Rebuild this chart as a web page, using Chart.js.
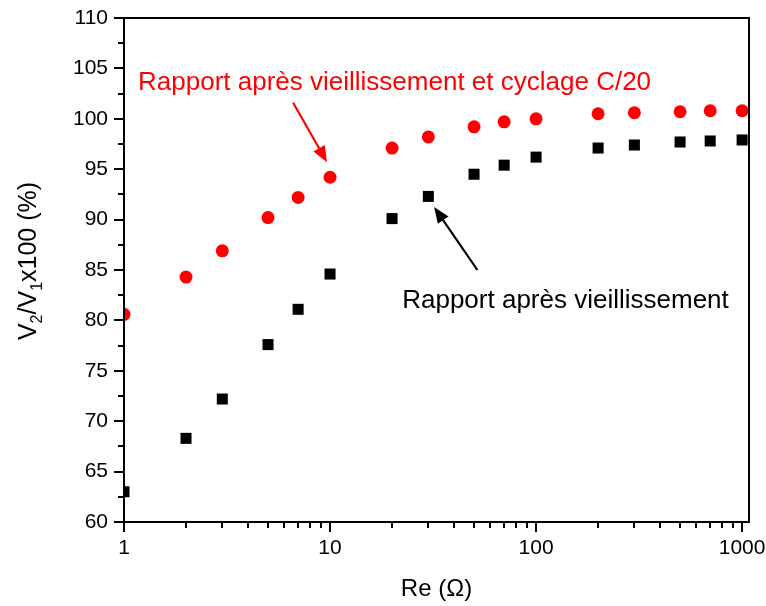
<!DOCTYPE html>
<html>
<head>
<meta charset="utf-8">
<script src="https://cdn.jsdelivr.net/npm/chart.js@4"></script>
<style>
  body { margin: 0; background: #fff; }
</style>
</head>
<body>
<canvas id="chart" width="766" height="606"></canvas>
<script>
const fontFamily = "'Liberation Sans', Arial, Helvetica, sans-serif";

// data
const reValues = [1, 2, 3, 5, 7, 10, 20, 30, 50, 70, 100, 200, 300, 500, 700, 1000];
const ratioCyclage = [80.6, 84.3, 86.9, 90.2, 92.2, 94.2, 97.1, 98.2, 99.2, 99.7, 100.0, 100.5, 100.6, 100.7, 100.8, 100.8];
const ratioVieillissement = [63.0, 68.3, 72.2, 77.6, 81.1, 84.6, 90.1, 92.3, 94.5, 95.4, 96.2, 97.1, 97.4, 97.7, 97.8, 97.9];

// axes
const xTickValues = [1, 10, 100, 1000];
const yTickValues = [60, 65, 70, 75, 80, 85, 90, 95, 100, 105, 110];
const xMin = 1, xMax = 1080;
const yMin = 60, yMax = 110, yMinorStep = 2.5;

// annotation texts
const labelCyclage = "Rapport après vieillissement et cyclage C/20";
const labelVieillissement = "Rapport après vieillissement";

// draws the frame, outward ticks, the y title with subscripts and the arrows
const framePlugin = {
    id: 'frame_and_notes',
    afterDatasetsDraw: (chart) => {
        const ctx = chart.ctx;
        const a = chart.chartArea;
        const x = chart.scales.x;
        const y = chart.scales.y;
        ctx.save();

        // box
        ctx.strokeStyle = '#000';
        ctx.lineWidth = 2;
        ctx.strokeRect(a.left, a.top, a.right - a.left, a.bottom - a.top);

        // ticks
        ctx.beginPath();
        for (let v = yMin; v <= yMax; v += yMinorStep) {
            const py = Math.round(y.getPixelForValue(v));
            const len = v % 5 === 0 ? 10 : 6;
            ctx.moveTo(a.left - len, py);
            ctx.lineTo(a.left, py);
        }
        for (let d = 1; d < xMax; d *= 10) {
            for (let m = 1; m < 10; m++) {
                const v = m * d;
                if (v > xMax) break;
                const px = Math.round(x.getPixelForValue(v));
                const len = m === 1 ? 10 : 6;
                ctx.moveTo(px, a.bottom);
                ctx.lineTo(px, a.bottom + len);
            }
        }
        ctx.stroke();

        // annotations
        ctx.font = `26px ${fontFamily}`;
        ctx.textBaseline = 'alphabetic';
        ctx.textAlign = 'left';
        ctx.fillStyle = '#ff0000';
        ctx.fillText(labelCyclage, x.getPixelForValue(1.17), y.getPixelForValue(102.9));
        ctx.fillStyle = '#000';
        ctx.fillText(labelVieillissement, x.getPixelForValue(22.4), y.getPixelForValue(81.2));

        drawArrow(ctx, x.getPixelForValue(6.62), y.getPixelForValue(101.6),
            x.getPixelForValue(9.67), y.getPixelForValue(95.7), '#ff0000');
        drawArrow(ctx, x.getPixelForValue(51.9), y.getPixelForValue(85.0),
            x.getPixelForValue(32.0), y.getPixelForValue(91.25), '#000');

        // y title: V2/V1x100 (%) with subscripts
        const parts = [
            {t: 'V', size: 25, dy: 0},
            {t: '2', size: 16, dy: 6},
            {t: '/V', size: 25, dy: 0},
            {t: '1', size: 16, dy: 6},
            {t: 'x100 (%)', size: 25, dy: 0},
        ];
        let total = 0;
        for (const p of parts) {
            ctx.font = `${p.size}px ${fontFamily}`;
            p.w = ctx.measureText(p.t).width;
            total += p.w;
        }
        ctx.translate(36, 261);
        ctx.rotate(-Math.PI / 2);
        ctx.fillStyle = '#000';
        let cx = -total / 2;
        for (const p of parts) {
            ctx.font = `${p.size}px ${fontFamily}`;
            ctx.fillText(p.t, cx, p.dy);
            cx += p.w;
        }
        ctx.restore();
    }
};

function drawArrow(ctx, x1, y1, x2, y2, color) {
    const ang = Math.atan2(y2 - y1, x2 - x1);
    const headLen = 16, headHalf = 6.5;
    const bx = x2 - headLen * Math.cos(ang);
    const by = y2 - headLen * Math.sin(ang);
    ctx.strokeStyle = color;
    ctx.fillStyle = color;
    ctx.lineWidth = 2.2;
    ctx.beginPath();
    ctx.moveTo(x1, y1);
    ctx.lineTo(bx + 2 * Math.cos(ang), by + 2 * Math.sin(ang));
    ctx.stroke();
    ctx.beginPath();
    ctx.moveTo(x2, y2);
    ctx.lineTo(bx - headHalf * Math.sin(ang), by + headHalf * Math.cos(ang));
    ctx.lineTo(bx + headHalf * Math.sin(ang), by - headHalf * Math.cos(ang));
    ctx.closePath();
    ctx.fill();
}

const cyclagePoints = reValues.map((v, i) => ({x: v, y: ratioCyclage[i]}));
const vieillPoints = reValues.map((v, i) => ({x: v, y: ratioVieillissement[i]}));

const tickFont = {family: fontFamily, size: 21};

new Chart(document.getElementById('chart').getContext('2d'), {
    type: 'scatter',
    data: {
        datasets: [
            {
                label: labelCyclage,
                data: cyclagePoints,
                pointStyle: 'circle',
                pointRadius: 6.5,
                backgroundColor: '#ff0000',
                borderWidth: 0,
                clip: 0,
            },
            {
                label: labelVieillissement,
                data: vieillPoints,
                pointStyle: 'rect',
                pointRadius: 7.8,
                backgroundColor: '#000',
                borderWidth: 0,
                clip: 0,
            },
        ]
    },
    options: {
        responsive: false,
        animation: false,
        devicePixelRatio: 1,
        layout: {padding: {top: 18, right: 17, left: 0, bottom: 0}},
        plugins: {
            legend: {display: false},
            tooltip: {enabled: false},
        },
        scales: {
            x: {
                type: 'logarithmic',
                min: xMin,
                max: xMax,
                afterBuildTicks: (scale) => { scale.ticks = xTickValues.map(v => ({value: v})); },
                afterFit: (scale) => {
                    scale.height = 84;
                    scale.paddingLeft = 0;
                    scale.paddingRight = 0;
                },
                grid: {display: false, drawTicks: false},
                border: {display: false},
                ticks: {
                    color: '#000',
                    font: tickFont,
                    padding: 14,
                    maxRotation: 0,
                    autoSkip: false,
                    callback: (v) => String(v),
                },
                title: {
                    display: true,
                    text: 'Re (Ω)',
                    color: '#000',
                    font: {family: fontFamily, size: 24},
                    padding: {top: 0, bottom: 2},
                },
            },
            y: {
                min: yMin,
                max: yMax,
                afterBuildTicks: (scale) => { scale.ticks = yTickValues.map(v => ({value: v})); },
                afterFit: (scale) => {
                    scale.width = 124;
                    scale.paddingTop = 0;
                    scale.paddingBottom = 0;
                },
                grid: {display: false, drawTicks: false},
                border: {display: false},
                ticks: {
                    color: '#000',
                    font: tickFont,
                    padding: 16,
                },
            },
        },
    },
    plugins: [framePlugin],
});
</script>
</body>
</html>
